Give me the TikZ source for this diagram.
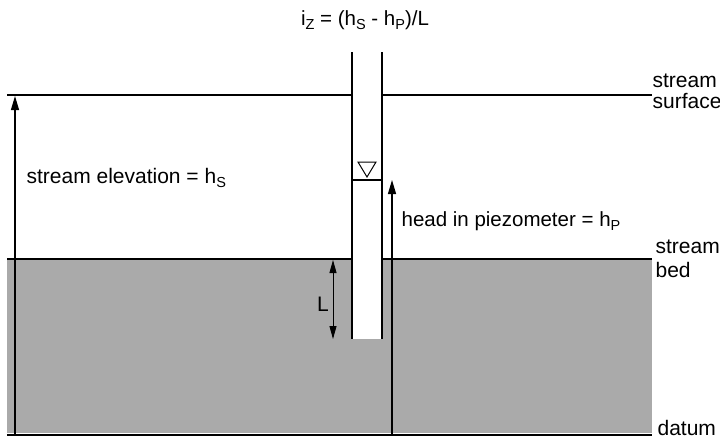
\documentclass[tikz,border=0pt]{standalone}
\usepackage{fontspec}
\setmainfont{Liberation Sans}
\usepackage{xcolor}
\usetikzlibrary{arrows.meta}
\definecolor{bedgray}{RGB}{170,170,170}
\newcommand{\lowsub}[1]{\raisebox{-0.45ex}{\fontsize{14.5}{14.5}\selectfont #1}}

\begin{document}
\begin{tikzpicture}[x=1pt, y=-1pt, line width=1.2pt,
    lbl/.style={font=\fontsize{21}{23}\selectfont, inner sep=0pt},
    slbl/.style={font=\fontsize{20.5}{23}\selectfont, inner sep=0pt},
    tip/.style={-{Triangle[length=14pt,width=8pt]}},
    ltip/.style={{Triangle[length=13pt,width=7pt]}-{Triangle[length=13pt,width=7pt]}, line width=0.9pt}]
\useasboundingbox (0,0) rectangle (720,439);

% levels
\coordinate (surfL) at (7,95);
\coordinate (surfR) at (652,95);
\coordinate (bedL) at (7,259);
\coordinate (bedR) at (652,259);
\coordinate (datL) at (7,435);
\coordinate (datR) at (652,435);

% piezometer tube
\coordinate (tubeTL) at (352,52);
\coordinate (tubeTR) at (382,52);
\coordinate (tubeBL) at (352,339);
\coordinate (tubeBR) at (382,339);
\coordinate (water) at (352,180);

% sediment below the stream bed
\fill[bedgray] (bedL) rectangle (652,433);
\draw (datL) -- (datR);

% stream surface and bed lines, broken at the tube
\draw (surfL) -- (tubeTL |- surfL);
\draw (tubeTR |- surfR) -- (surfR);
\draw (bedL) -- (tubeTL |- bedL);
\draw (tubeTR |- bedR) -- (bedR);

% tube
\fill[white] (tubeTL) rectangle (tubeBR);
\draw (tubeTL) -- (tubeBL);
\draw (tubeTR) -- (tubeBR);
\draw (water) -- (tubeTR |- water);
\draw[line width=1pt] (358,162) -- (376,162) -- (367,177) -- cycle;

% heads
\coordinate (elevB) at (15,435);
\coordinate (elevT) at (15,96);
\draw[tip] (elevB) -- (elevT);
\coordinate (headB) at (392,435);
\coordinate (headT) at (392,180);
\draw[tip] (headB) -- (headT);
\coordinate (lenT) at (333,260);
\coordinate (lenB) at (333,339);
\draw[ltip] (lenT) -- (lenB);

% labels
\node[slbl, anchor=base] (grad) at (365,25) {i\lowsub{Z} = (h\lowsub{S} - h\lowsub{P})/L};
\node[lbl, anchor=base west] (elev) at (26,183) {stream elevation = h\lowsub{S}};
\node[slbl, anchor=base west] (head) at (401,226) {head in piezometer = h\lowsub{P}};
\node[lbl, anchor=base] (len) at (323,311) {L};
\node[lbl, anchor=base west] (surf1) at (652,87) {stream};
\node[lbl, anchor=base west] (surf2) at (652,108) {surface};
\node[lbl, anchor=base west] (bed1) at (655,253) {stream};
\node[lbl, anchor=base west] (bed2) at (655,277) {bed};
\node[lbl, anchor=base west] (dat) at (657,435) {datum};
\end{tikzpicture}
\end{document}
